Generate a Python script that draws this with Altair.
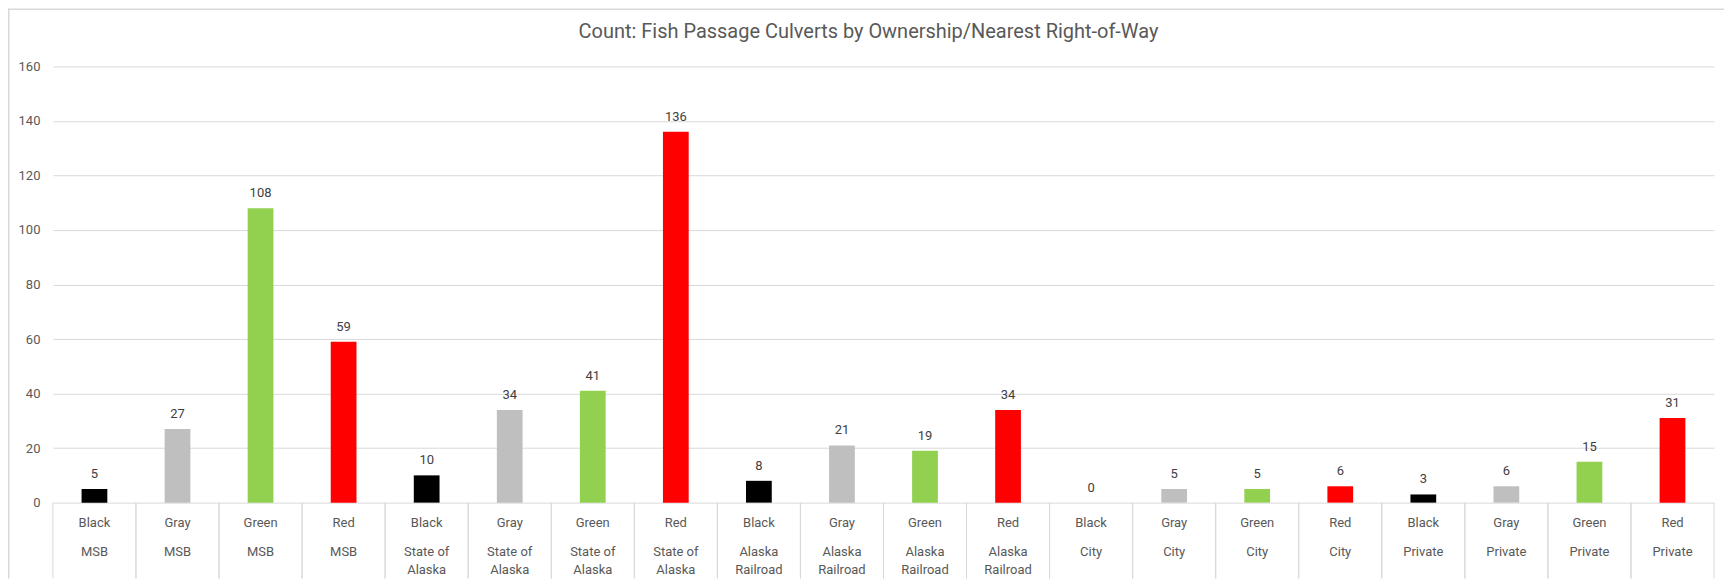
import altair as alt
import pandas as pd

TITLE = "Count: Fish Passage Culverts by Ownership/Nearest Right-of-Way"
condition = ["Black", "Gray", "Green", "Red"] * 5
owner_line1 = (["MSB"] * 4 + ["State of"] * 4 + ["Alaska"] * 4
               + ["City"] * 4 + ["Private"] * 4)
owner_line2 = ([""] * 4 + ["Alaska"] * 4 + ["Railroad"] * 4
               + [""] * 4 + [""] * 4)
count = [5, 27, 108, 59,
         10, 34, 41, 136,
         8, 21, 19, 34,
         0, 5, 5, 6,
         3, 6, 15, 31]
cond_domain = ["Black", "Gray", "Green", "Red"]
cond_colors = ["#000000", "#BFBFBF", "#92D050", "#FF0000"]
y_ticks = [0, 20, 40, 60, 80, 100, 120, 140, 160]

df = pd.DataFrame({
    "pos": list(range(len(count))),
    "condition": condition,
    "line1": owner_line1,
    "line2": owner_line2,
    "count": count,
})

FONT = "Roboto"
W, H = 1664, 437
PAD = {"left": 45, "top": 58, "right": 10, "bottom": 76}
GRID = "#D9D9D9"
TXT = "#595959"
BAR_FRAC = 0.31

xscale = alt.Scale(domain=[0, len(count)], nice=False, zero=False)
base = alt.Chart(df).transform_calculate(
    mid="datum.pos + 0.5",
    x0=f"datum.pos + 0.5 - {BAR_FRAC / 2}",
    x1=f"datum.pos + 0.5 + {BAR_FRAC / 2}",
    edge="datum.pos + 1",
    zero="0",
)

bars = base.mark_bar().encode(
    x=alt.X("x0:Q", scale=xscale, axis=None),
    x2="x1:Q",
    y=alt.Y("count:Q", scale=alt.Scale(domain=[0, 160], nice=False),
            axis=alt.Axis(values=y_ticks, grid=True, gridColor=GRID, domain=False,
                          ticks=False, labelPadding=13, labelColor=TXT,
                          labelFontSize=13, labelFont=FONT, title=None)),
    y2="zero:Q",
    color=alt.Color("condition:N", scale=alt.Scale(domain=cond_domain, range=cond_colors),
                    legend=None),
)

values = base.mark_text(dy=-11, baseline="alphabetic", fontSize=13, font=FONT,
                        color="#404040").encode(
    x=alt.X("mid:Q", scale=xscale, axis=None), y=alt.Y("count:Q"), text="count:Q")

lab1 = base.mark_text(baseline="middle", fontSize=13, font=FONT, color=TXT).encode(
    x=alt.X("mid:Q", scale=xscale, axis=None), y=alt.value(457), text="condition:N")

lab2 = base.mark_text(baseline="middle", fontSize=13, font=FONT, color=TXT).encode(
    x=alt.X("mid:Q", scale=xscale, axis=None), y=alt.value(486), text="line1:N")

lab3 = base.mark_text(baseline="middle", fontSize=13, font=FONT, color=TXT).encode(
    x=alt.X("mid:Q", scale=xscale, axis=None), y=alt.value(504), text="line2:N")

sep0 = base.mark_tick(orient="vertical", size=PAD["bottom"], thickness=1, color=GRID,
                      opacity=1).encode(
    x=alt.X("pos:Q", scale=xscale, axis=None), y=alt.value(H + PAD["bottom"] / 2))
sep1 = base.mark_tick(orient="vertical", size=PAD["bottom"], thickness=1, color=GRID,
                      opacity=1).encode(
    x=alt.X("edge:Q", scale=xscale, axis=None), y=alt.value(H + PAD["bottom"] / 2))

one = base.transform_filter("datum.pos == 0")
frame_left = one.mark_tick(orient="vertical", size=H + PAD["top"] + PAD["bottom"],
                           thickness=1.5, color=GRID, opacity=1).encode(
    x=alt.value(-PAD["left"] + 0.75),
    y=alt.value((H + PAD["bottom"] - PAD["top"]) / 2))
frame_top = one.mark_tick(orient="horizontal", size=W + PAD["left"] + PAD["right"],
                          thickness=1.5, color=GRID, opacity=1).encode(
    x=alt.value((W + PAD["right"] - PAD["left"]) / 2),
    y=alt.value(-PAD["top"] + 0.75))

title = one.mark_text(fontSize=20, font=FONT, color=TXT, baseline="alphabetic",
                      align="center").encode(
    x=alt.value(817), y=alt.value(-28), text=alt.value(TITLE))

chart = alt.layer(frame_left, frame_top, sep0, sep1, bars, values, lab1, lab2, lab3,
                  title).properties(
    width=W, height=H,
    padding=PAD,
    autosize="none",
).configure_view(stroke=None)

chart.save("out.html", embed_options={"renderer": "svg", "actions": False})
